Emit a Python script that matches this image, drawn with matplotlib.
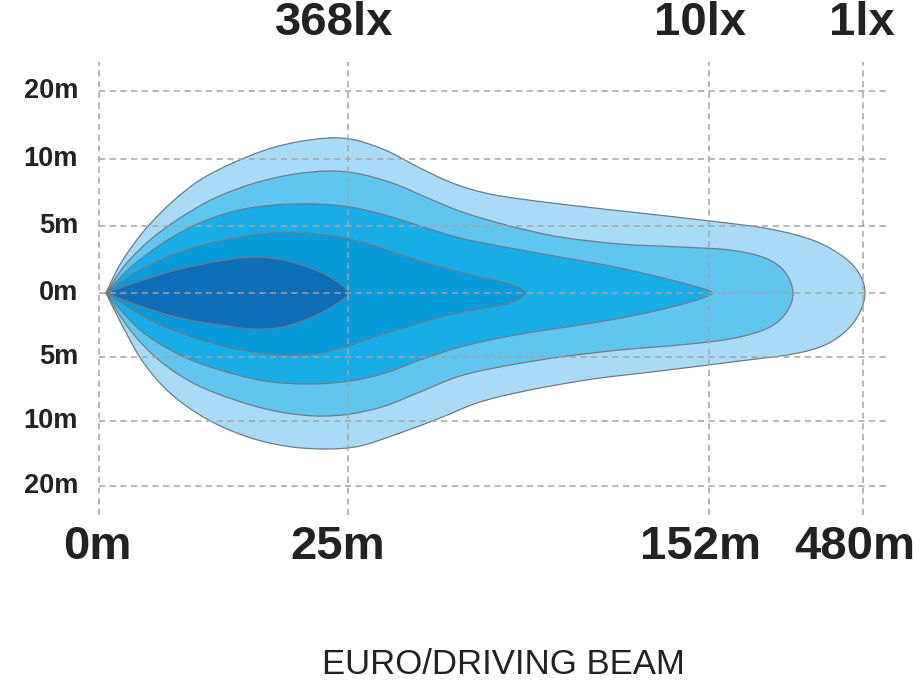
import numpy as np
import matplotlib.pyplot as plt
from matplotlib.path import Path
from matplotlib.patches import PathPatch

# ----------------------------------------------------
# Layout of the schematic (pixel-like units, y = offset from beam axis)
# ----------------------------------------------------
dist_labels = ['0m', '25m', '152m', '480m']
dist_pos = [99, 348, 709, 863]
lux_labels = ['368lx', '10lx', '1lx']
lux_pos = [334, 700, 862]
width_labels = ['20m', '10m', '5m', '0m', '5m', '10m', '20m']
width_pos = [202, 134, 67, 0, -64, -128, -193]

# Isolux outlines: tip -> top edge -> nose -> bottom edge -> tip
zone1_x = [106, 118, 133, 150, 172, 200, 235, 275, 317, 350, 385, 420, 455, 495, 560, 640, 710,
           770, 815, 845, 860, 865, 860, 847, 825, 793, 740, 660, 593, 530, 480, 440, 400,
           360, 325, 285, 245, 205, 170, 143, 122, 106]
zone1_y = [0, 25, 48, 69, 91, 113, 131, 146, 154, 154, 143, 125, 109, 98, 89, 80, 72,
           64, 52, 35, 18, 0, -19, -37, -52, -61, -68, -78, -86, -97, -109, -125, -140,
           -153, -156, -153, -143, -125, -100, -69, -32, 0]

zone2_x = [106, 125, 150, 180, 215, 255, 295, 330, 360, 395, 430, 465, 510, 560, 620, 680, 730,
           765, 785, 793, 786, 768, 735, 690, 620, 560, 505, 460, 420, 385, 350, 315, 275,
           235, 195, 160, 130, 106]
zone2_y = [0, 28, 53, 75, 95, 110, 119, 122, 119, 109, 94, 80, 67, 56, 49, 46, 43,
           35, 21, 0, -20, -35, -45, -51, -57, -64, -73, -83, -99, -113, -121, -123, -118,
           -107, -91, -68, -37, 0]

zone3_x = [106, 130, 160, 195, 235, 275, 315, 350, 385, 420, 460, 510, 560, 610, 655, 690, 712,
           690, 655, 610, 560, 510, 460, 420, 385, 350, 310, 265, 220, 180, 140, 106]
zone3_y = [0, 25, 48, 68, 82, 88, 89, 86, 78, 67, 55, 45, 36, 27, 17, 8, 0,
           -9, -18, -27, -35, -43, -54, -67, -80, -88, -91, -88, -77, -62, -37, 0]

zone4_x = [106, 140, 180, 225, 270, 305, 340, 375, 410, 445, 480, 510, 525,
           510, 480, 445, 410, 375, 345, 315, 280, 240, 195, 150, 106]
zone4_y = [0, 23, 41, 53, 60, 60, 56, 47, 35, 25, 16, 9, 0,
           -10, -16, -23, -33, -44, -54, -61, -62, -57, -45, -27, 0]

zone5_x = [106, 140, 180, 220, 253, 283, 310, 333, 348, 333, 310, 283, 253, 220, 180, 140, 106]
zone5_y = [0, 12, 24, 32, 36, 33, 25, 14, 0, -13, -25, -34, -36, -32, -25, -13, 0]

zones = [(zone1_x, zone1_y, '#a9dbf6'),
         (zone2_x, zone2_y, '#60c5ef'),
         (zone3_x, zone3_y, '#18ade9'),
         (zone4_x, zone4_y, '#0899da'),
         (zone5_x, zone5_y, '#0d6db8')]


def smooth_path(xs, ys):
    # Catmull-Rom through the outline points, expressed as cubic Bezier segments
    pts = np.column_stack([xs, ys]).astype(float)
    ext = np.vstack([pts[0], pts, pts[-1]])
    verts = [pts[0]]
    codes = [Path.MOVETO]
    for i in range(1, len(ext) - 2):
        p0, p1, p2, p3 = ext[i - 1], ext[i], ext[i + 1], ext[i + 2]
        verts += [p1 + (p2 - p0) / 6.0, p2 - (p3 - p1) / 6.0, p2]
        codes += [Path.CURVE4] * 3
    verts.append(pts[0])
    codes.append(Path.CLOSEPOLY)
    return Path(verts, codes)


fig = plt.figure(figsize=(9.21, 6.89), dpi=100)
ax = fig.add_axes([0, 0, 1, 1])
ax.set_xlim(0, 921)
ax.set_ylim(293 - 689, 293)
ax.axis('off')

for zx, zy, col in zones:
    ax.add_patch(PathPatch(smooth_path(zx, zy), facecolor=col,
                           edgecolor='#6d7c89', linewidth=0.9, zorder=2))

# dashed grid drawn over the beam
grid_kw = dict(colors='#a3a3a8', linestyles=(0, (4, 3)), linewidth=1.1, zorder=3)
ax.hlines(width_pos, 99, 887, **grid_kw)
ax.vlines(dist_pos, -222, 231, **grid_kw)

bold = dict(family='Liberation Sans', weight='bold', color='#222222')
for lab, y in zip(width_labels, width_pos):
    ax.text(78, y, lab, fontsize=19.5, ha='right', va='center', **bold)

bottom_x = [97, 338, 700, 855]
for lab, x in zip(dist_labels, bottom_x):
    ax.text(x, 293 - 547, lab, fontsize=34, ha='center', va='center', **bold)

for lab, x in zip(lux_labels, lux_pos):
    ax.text(x, 293 - 23, lab, fontsize=34, ha='center', va='center', **bold)

ax.text(503, 293 - 665, 'EURO/DRIVING BEAM', fontsize=25, ha='center', va='center',
        family='Liberation Sans', color='#222222')

fig.savefig('out.png', dpi=100)
